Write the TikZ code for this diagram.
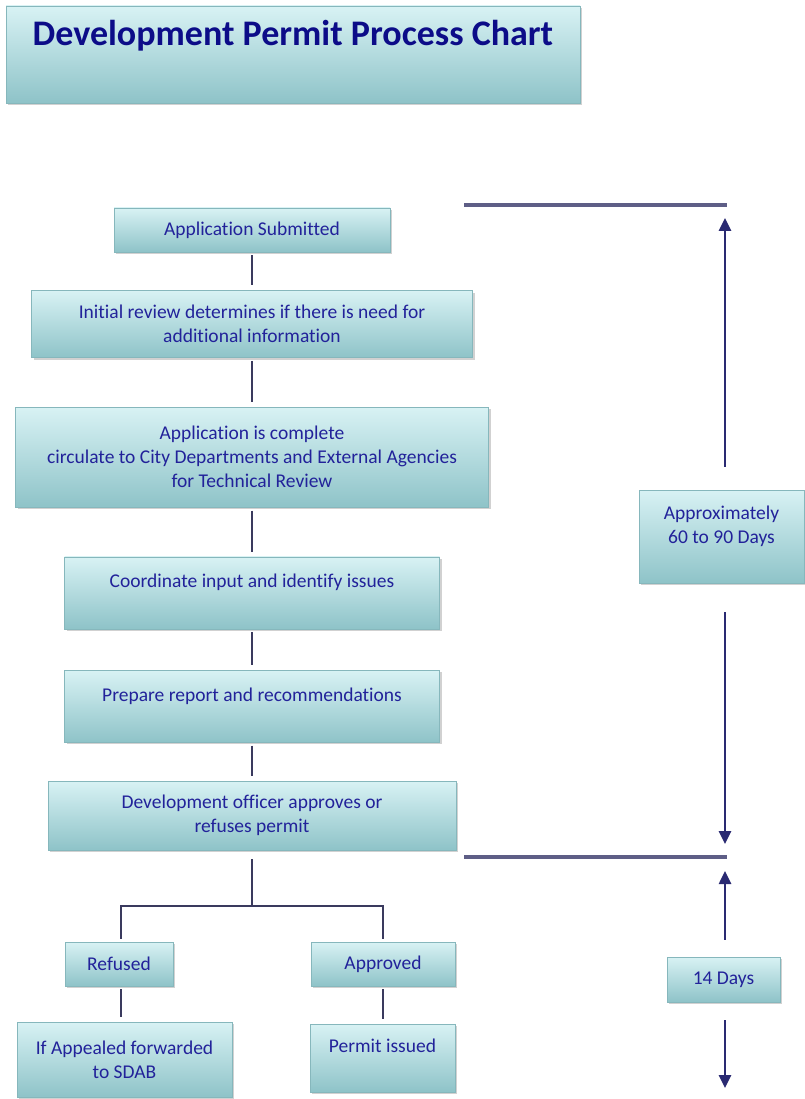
\documentclass[tikz,border=0pt]{standalone}
\usepackage{fontspec}
\setmainfont{Carlito}[Ligatures=CommonOff]
\usepackage{tikz}
\usetikzlibrary{positioning,shadows,arrows.meta}

\definecolor{boxtop}{HTML}{D8F2F4}
\definecolor{boxmid}{HTML}{B2DEE2}
\definecolor{boxbottom}{HTML}{8EC3C8}
\definecolor{boxedge}{HTML}{86B7BC}
\definecolor{boxtext}{HTML}{22229A}
\definecolor{titletext}{HTML}{0C0C88}
\definecolor{linkcol}{HTML}{3A3A5E}
\definecolor{barcol}{HTML}{5E5E86}
\definecolor{arrowcol}{HTML}{2A2A72}

\begin{document}
\begin{tikzpicture}
        [
            x=1pt, y=-1pt,
            stepbox/.style={rectangle, top color=boxtop, middle color=boxmid, bottom color=boxbottom, draw=boxedge, line width=0.6pt, inner sep=0pt, align=center, text=boxtext, font=\fontsize{19.5}{24}\selectfont, drop shadow={shadow xshift=2pt, shadow yshift=-2pt, opacity=0.3, fill=black!60}},
            titlebox/.style={stepbox, text=titletext, font=\fontsize{36}{44}\selectfont\bfseries},
            link/.style={draw=linkcol, line width=2.6pt, shorten <=3pt, shorten >=5pt},
            branch/.style={draw=linkcol, line width=2.6pt},
            timebar/.style={draw=barcol, line width=4pt},
            timearrow/.style={draw=arrowcol, line width=2.6pt, -{Triangle[width=12pt,length=13pt]}},
        ]
        \useasboundingbox (0,0) rectangle (804,1099);

        %Titulo
        \node[titlebox, minimum width=574, minimum height=97] (title) at (293,54.5) {Development Permit Process Chart\\ \mbox{}};

        %Etapas
        \node[stepbox, minimum width=276, minimum height=44] (submitted) at (252,230) {Application Submitted};
        \node[stepbox, minimum width=441, minimum height=67] (review) [below=38pt of submitted] {Initial review determines if there is need for\\ additional information};
        \node[stepbox, minimum width=473, minimum height=100] (complete) [below=49pt of review] {Application is complete\\ circulate to City Departments and External Agencies\\ for Technical Review};
        \node[stepbox, minimum width=375, minimum height=72] (coordinate) [below=49pt of complete] {Coordinate input and identify issues\\ \mbox{}};
        \node[stepbox, minimum width=375, minimum height=72] (report) [below=41pt of coordinate] {Prepare report and recommendations\\ \mbox{}};
        \node[stepbox, minimum width=408, minimum height=69] (decision) [below=38pt of report] {Development officer approves or\\ refuses permit};

        %Resultados
        \node[stepbox, minimum width=108, minimum height=44] (refused) at (119,964) {Refused};
        \node[stepbox, minimum width=144, minimum height=44] (approved) at (383,964) {Approved};
        \node[stepbox, minimum width=215, minimum height=75] (appeal) at (124.5,1059.5) {If Appealed forwarded\\ to SDAB};
        \node[stepbox, minimum width=145, minimum height=68] (issued) at (382.5,1058) {Permit issued\\ \mbox{}};

        %Prazos
        \node[stepbox, minimum width=165, minimum height=93] (approxdays) at (721.5,536.5) {Approximately\\ 60 to 90 Days\\ \mbox{}};
        \node[stepbox, minimum width=113, minimum height=45] (fourteen) at (723.5,979.5) {14 Days};

        \coordinate (split) at (252,906);
        \coordinate (topbarL) at (464,205);
        \coordinate (topbarR) at (727,205);
        \coordinate (midbarL) at (464,857);
        \coordinate (midbarR) at (727,857);
        \coordinate (uptip) at (725,218);
        \coordinate (downtip) at (725,844);
        \coordinate (uptipb) at (725,871);
        \coordinate (endtip) at (725,1088);

        %Linhas
        \draw[link] (submitted) -- (review);
        \draw[link] (review) -- (complete);
        \draw[link] (complete) -- (coordinate);
        \draw[link] (coordinate) -- (report);
        \draw[link] (report) -- (decision);
        \draw[branch, shorten <=9pt] (decision.south) -- (split);
        \draw[branch, shorten <=3pt, shorten >=3pt] ([xshift=2pt]refused.north) |- (split) -| (approved.north);
        \draw[link] ([xshift=2pt]refused.south) -- ([xshift=2pt]refused.south |- appeal.north);
        \draw[link] (approved.south) -- (approved.south |- issued.north);

        %Barras
        \draw[timebar] (topbarL) -- (topbarR);
        \draw[timebar] (midbarL) -- (midbarR);
        \draw[timearrow, shorten <=23pt] (approxdays.north -| uptip) -- (uptip);
        \draw[timearrow, shorten <=29pt] (approxdays.south -| downtip) -- (downtip);
        \draw[timearrow, shorten <=17pt] (fourteen.north -| uptipb) -- (uptipb);
        \draw[timearrow, shorten <=18pt] (fourteen.south -| endtip) -- (endtip);
    \end{tikzpicture}
\end{document}
